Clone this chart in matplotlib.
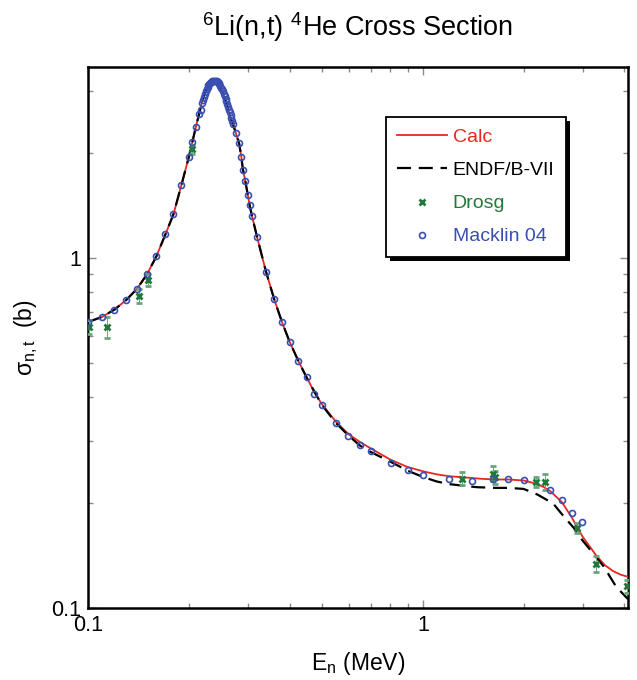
import numpy as np
import matplotlib
matplotlib.use('Agg')
import matplotlib.pyplot as plt
from matplotlib.patches import Rectangle
from matplotlib.lines import Line2D
from matplotlib.ticker import FixedLocator, FixedFormatter, LogLocator, NullFormatter

# Datos (E en MeV, sigma en b)
calc_e = [0.100, 0.110, 0.120, 0.130, 0.140, 0.150, 0.160, 0.170, 0.180, 0.190,
          0.200, 0.205, 0.210, 0.2145, 0.2185, 0.2230, 0.2275, 0.2320, 0.2380, 0.2430,
          0.2490, 0.2550, 0.2610, 0.2670, 0.2715, 0.2764, 0.2830, 0.2870, 0.2900, 0.2950,
          0.3000, 0.3040, 0.3090, 0.3200, 0.3400, 0.3600, 0.3800, 0.4000, 0.4250, 0.4500,
          0.4750, 0.5000, 0.5500, 0.6000, 0.6500, 0.7000, 0.8000, 0.9000, 1.000, 1.100,
          1.200, 1.350, 1.500, 1.650, 1.800, 2.000, 2.130, 2.290, 2.400, 2.600,
          2.780, 3.000, 3.300, 3.500, 3.700, 3.900, 4.100]
calc_s = [0.657, 0.679, 0.713, 0.759, 0.817, 0.899, 1.012, 1.165, 1.336, 1.615,
          1.945, 2.150, 2.375, 2.576, 2.770, 2.950, 3.090, 3.180, 3.220, 3.200,
          3.080, 2.910, 2.710, 2.510, 2.400, 2.280, 2.120, 1.950, 1.800, 1.660,
          1.520, 1.415, 1.318, 1.148, 0.916, 0.762, 0.655, 0.577, 0.508, 0.457,
          0.412, 0.382, 0.341, 0.314, 0.298, 0.2856, 0.2656, 0.253, 0.246, 0.241,
          0.238, 0.236, 0.234, 0.233, 0.233, 0.2315, 0.228, 0.222, 0.216, 0.201,
          0.182, 0.160, 0.141, 0.1325, 0.1275, 0.1245, 0.1228]

endf_e = [0.100, 0.110, 0.120, 0.130, 0.140, 0.150, 0.160, 0.170, 0.180, 0.190,
          0.200, 0.205, 0.210, 0.2145, 0.2185, 0.2230, 0.2275, 0.2320, 0.2380, 0.2430,
          0.2490, 0.2550, 0.2610, 0.2670, 0.2715, 0.2764, 0.2830, 0.2870, 0.2900, 0.2950,
          0.3000, 0.3040, 0.3090, 0.3200, 0.3400, 0.3600, 0.3800, 0.4000, 0.4250, 0.4500,
          0.5000, 0.5500, 0.6000, 0.6500, 0.7000, 0.8000, 0.9000, 1.000, 1.100, 1.200,
          1.300, 1.450, 1.650, 1.800, 2.000, 2.200, 2.450, 2.620, 2.830, 3.000,
          3.250, 3.500, 3.600, 3.780, 4.100]
endf_s = [0.657, 0.679, 0.713, 0.759, 0.817, 0.899, 1.012, 1.165, 1.336, 1.615,
          1.945, 2.150, 2.375, 2.576, 2.770, 2.950, 3.090, 3.180, 3.220, 3.200,
          3.080, 2.910, 2.710, 2.510, 2.400, 2.280, 2.120, 1.950, 1.800, 1.660,
          1.520, 1.415, 1.318, 1.148, 0.916, 0.762, 0.655, 0.577, 0.508, 0.455,
          0.380, 0.338, 0.311, 0.291, 0.279, 0.262, 0.247, 0.237, 0.230, 0.226,
          0.224, 0.2215, 0.2205, 0.2205, 0.219, 0.211, 0.199, 0.184, 0.169, 0.156,
          0.142, 0.130, 0.124, 0.115, 0.106]

macklin_e = [0.1002, 0.1099, 0.1196, 0.1301, 0.1404, 0.1503, 0.160, 0.170, 0.180, 0.190,
             0.200, 0.2048, 0.2097, 0.2145, 0.2170, 0.2185, 0.2200, 0.2215, 0.2230, 0.2245,
             0.2260, 0.2275, 0.2290, 0.2305, 0.2320, 0.2335, 0.2350, 0.2365, 0.2380, 0.2395,
             0.2410, 0.2425, 0.2440, 0.2455, 0.2470, 0.2485, 0.2500, 0.2515, 0.2530, 0.2545,
             0.2560, 0.2575, 0.2590, 0.2605, 0.2620, 0.2635, 0.2650, 0.2665, 0.2680, 0.2695,
             0.2715, 0.2764, 0.2830, 0.2870, 0.2897, 0.2949, 0.2998, 0.3040, 0.3088, 0.3196,
             0.340, 0.360, 0.3795, 0.400, 0.4245, 0.4497, 0.4738, 0.4986, 0.549, 0.598,
             0.6486, 0.6994, 0.801, 0.9022, 0.998, 1.198, 1.398, 1.621, 1.797, 2.002,
             2.399, 2.605, 2.799, 2.998]
macklin_s = [0.657, 0.680, 0.713, 0.760, 0.819, 0.902, 1.015, 1.169, 1.336, 1.617,
             1.949, 2.142, 2.365, 2.576, 2.660, 2.770, 2.837, 2.897, 2.951, 3.000,
             3.047, 3.088, 3.122, 3.153, 3.177, 3.196, 3.210, 3.217, 3.220, 3.218,
             3.210, 3.200, 3.185, 3.165, 3.140, 3.110, 3.075, 3.040, 3.000, 2.955,
             2.910, 2.860, 2.810, 2.760, 2.710, 2.660, 2.610, 2.560, 2.510, 2.470,
             2.420, 2.280, 2.130, 1.950, 1.790, 1.660, 1.520, 1.415, 1.318, 1.148,
             0.916, 0.762, 0.655, 0.576, 0.507, 0.456, 0.410, 0.3805, 0.338, 0.311,
             0.292, 0.2806, 0.260, 0.248, 0.2396, 0.233, 0.2307, 0.233, 0.233, 0.2318,
             0.2171, 0.2037, 0.1874, 0.1766]

drosg_e = [0.1007, 0.1142, 0.1417, 0.1507, 0.204, 1.307, 1.625, 1.640, 2.185, 2.324,
           2.896, 3.301, 4.080]
drosg_s = [0.636, 0.636, 0.782, 0.865, 2.046, 0.2344, 0.2423, 0.2365, 0.2292, 0.2292,
           0.1693, 0.1336, 0.1153]
drosg_err = [0.030, 0.045, 0.035, 0.035, 0.060, 0.010, 0.012, 0.010, 0.008, 0.012,
             0.006, 0.007, 0.005]

#Fuentes
plt.rcParams['font.family'] = ['Liberation Sans', 'DejaVu Sans']
plt.rcParams['mathtext.fontset'] = 'custom'
plt.rcParams['mathtext.rm'] = 'Liberation Sans'
plt.rcParams['mathtext.it'] = 'Liberation Sans:italic'

W, H = 637, 680
fig = plt.figure(figsize=(W/100, H/100), dpi=100)
x0, x1, y0, y1 = 88, 628, 67, 608
ax = fig.add_axes([x0/W, 1-y1/H, (x1-x0)/W, (y1-y0)/H])

red = '#e8261f'
green = '#1f7a3a'
blue = '#3a4fb2'

l_calc, = ax.plot(calc_e, calc_s, color=red, lw=1.3, zorder=3)
l_endf, = ax.plot(endf_e, endf_s, color='black', lw=1.6, dashes=(6.3, 3.5), zorder=4)
ax.errorbar(drosg_e, drosg_s, yerr=drosg_err, fmt='x', color=green, ms=4.5, mew=2,
            ecolor='#6aa57a', elinewidth=0.7, capsize=2.5, capthick=0.7, zorder=5)
l_mack, = ax.plot(macklin_e, macklin_s, 'o', mfc='none', mec=blue, ms=4.3, mew=1.2, zorder=6)
l_drosg = Line2D([], [], ls='none', marker='x', color=green, ms=4.5, mew=2)

ax.set_xscale('log')
ax.set_yscale('log')
ax.set_xlim(0.1, 4.1)
ax.set_ylim(0.1, 3.52)

#Ticks
for axis in (ax.xaxis, ax.yaxis):
    axis.set_major_locator(FixedLocator([0.1, 1]))
    axis.set_major_formatter(FixedFormatter(['0.1', '1']))
    axis.set_minor_locator(LogLocator(base=10, subs=np.arange(2, 10)))
    axis.set_minor_formatter(NullFormatter())
ax.tick_params(which='both', direction='in', top=True, right=True, color='#8c8c8c', width=1)
ax.tick_params(which='major', length=6, labelsize=15.5, pad=5)
ax.tick_params(which='minor', length=3.5)

for sp in ax.spines.values():
    sp.set_linewidth(1.8)
    sp.set_color('black')

ax.set_xlabel(r'E$_{\mathregular{n}}$ (MeV)', fontsize=16.5, labelpad=10)
ax.set_ylabel(r'σ$_{\mathregular{n,t}}$  (b)', fontsize=16.5, labelpad=8)
fig.text((x0+x1)/2/W, 1-27/H, r'$^{\mathregular{6}}$Li(n,t) $^{\mathregular{4}}$He Cross Section',
         ha='center', va='center', fontsize=19.5)

#Leyenda con sombra
leg = ax.legend([l_calc, l_endf, l_drosg, l_mack], ['Calc', 'ENDF/B-VII', 'Drosg', 'Macklin 04'],
                loc='upper left', bbox_to_anchor=(385.7/W, 1-116.7/H), bbox_transform=fig.transFigure,
                borderaxespad=0, fontsize=14, handlelength=2.55, handletextpad=0.3, borderpad=0.6,
                labelspacing=0.8, numpoints=1, fancybox=False, framealpha=1, edgecolor='black',
                labelcolor=[red, 'black', green, blue])
leg.get_frame().set_linewidth(1.3)
leg.set_zorder(10)

fig.canvas.draw()
bb = leg.get_window_extent()
sh = Rectangle((bb.x0+4, bb.y0-4), bb.width, bb.height, transform=None, facecolor='black',
               edgecolor='none', zorder=9)
fig.add_artist(sh)
leg.remove()
fig.add_artist(leg)

fig.savefig('out.png', dpi=100)
